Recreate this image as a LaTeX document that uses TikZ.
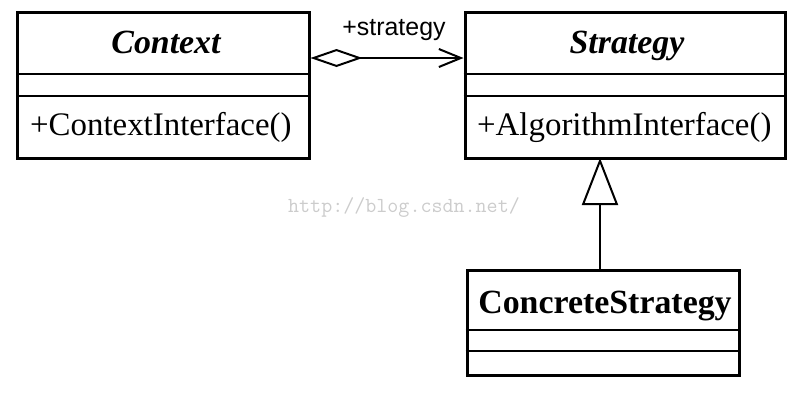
\documentclass[tikz,border=0pt]{standalone}
\usepackage{fontspec}
\setmainfont{Liberation Serif}
\newfontfamily\labelfont{Liberation Sans}
\usetikzlibrary{arrows.meta}
\begin{document}
\begin{tikzpicture}[x=1bp,y=-1bp,
  classbox/.style={draw, line width=3bp, inner sep=0pt},
  divider/.style={line width=2.4bp},
  titletext/.style={anchor=base, inner sep=0pt, font=\fontsize{34}{40}\selectfont\bfseries\itshape},
  plaintitle/.style={anchor=base, inner sep=0pt, font=\fontsize{34}{40}\selectfont\bfseries},
  methodtext/.style={anchor=base west, inner sep=0pt, font=\fontsize{33}{40}\selectfont},
  assoc/.style={line width=2bp, {Diamond[open, length=52bp, width=18bp]}-{Straight Barb[length=22bp, width=18bp]}},
  inherit/.style={line width=2bp, -{Triangle[open, length=47bp, width=36bp]}},
  rolelabel/.style={inner sep=0pt, font=\labelfont\fontsize{25}{30}\selectfont},
  watermark/.style={inner sep=0pt, text=black!20, font=\ttfamily\fontsize{21.5}{24}\selectfont}
]
\useasboundingbox (0,0) rectangle (800,404);

% Context class
\node[classbox, minimum width=291bp, minimum height=146bp] (context) at (163.5,85) {};
\draw[divider] (context.west |- 0,74) -- (context.east |- 0,74);
\draw[divider] (context.west |- 0,96) -- (context.east |- 0,96);
\node[titletext] (contexttitle) at (166,53) {Context};
\node[methodtext] (contextop) at (30,135) {+ContextInterface()};

% Strategy class
\node[classbox, minimum width=320bp, minimum height=146bp] (strategy) at (625,85) {};
\draw[divider] (strategy.west |- 0,74) -- (strategy.east |- 0,74);
\draw[divider] (strategy.west |- 0,96) -- (strategy.east |- 0,96);
\node[titletext] (strategytitle) at (627,53) {Strategy};
\node[methodtext] (strategyop) at (477,135) {+AlgorithmInterface()};

% ConcreteStrategy class
\node[classbox, minimum width=272bp, minimum height=105bp] (concrete) at (603,322.5) {};
\draw[divider] (concrete.west |- 0,330) -- (concrete.east |- 0,330);
\draw[divider] (concrete.west |- 0,351) -- (concrete.east |- 0,351);
\node[plaintitle] (concretetitle) at (605,313) {ConcreteStrategy};

% association
\coordinate (assocstart) at (context.east |- 0,58);
\coordinate (assocend) at (strategy.west |- 0,58);
\draw[assoc] (assocstart) -- (assocend);
\node[rolelabel] (role) at (394,30) {+strategy};

% generalization
\coordinate (genstart) at (600,270);
\coordinate (genend) at (600,158);
\draw[inherit] (genstart) -- (genend);

% watermark
\node[watermark] (wm) at (404,208) {http://blog.csdn.net/};
\end{tikzpicture}
\end{document}
